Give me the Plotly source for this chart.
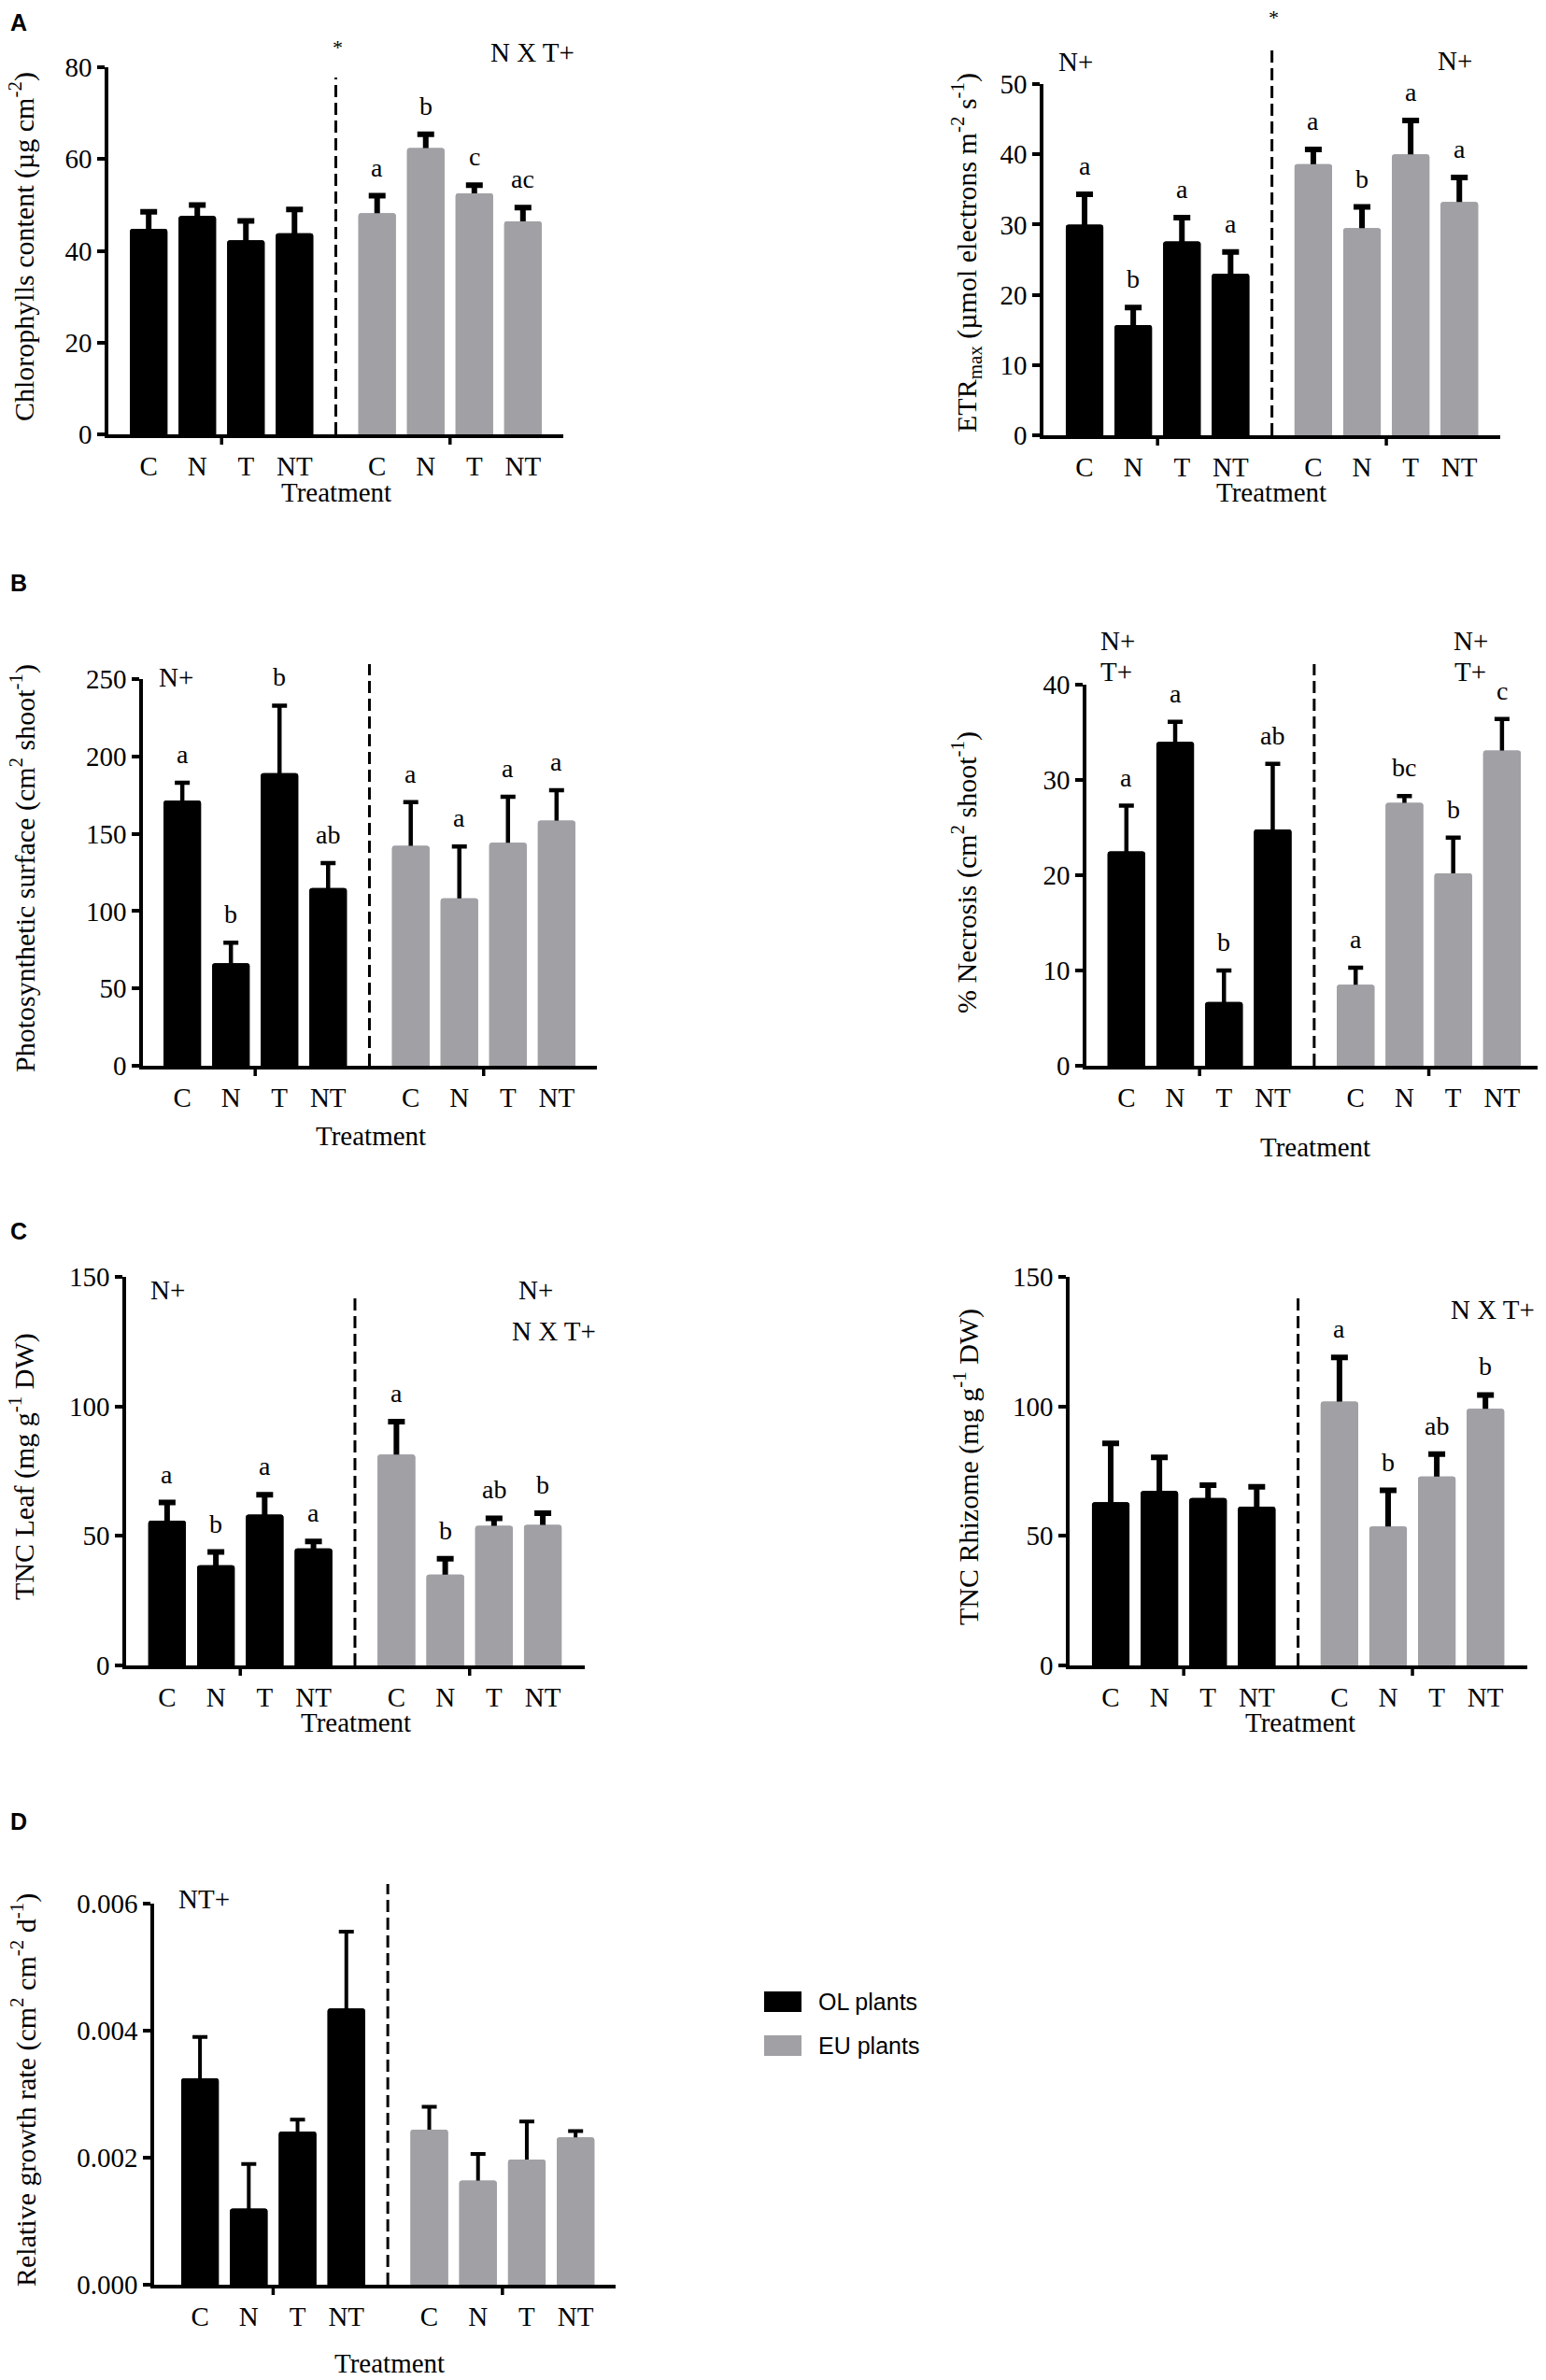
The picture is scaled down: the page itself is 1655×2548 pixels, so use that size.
import plotly.graph_objects as go

W, H = 1655, 2548
PAD = 8  # the page body keeps an 8px margin around the figure
FW, FH = W - 2 * PAD, H - 2 * PAD
SERIF = "Liberation Serif"
SANS = "Liberation Sans"
BLACK = "#000000"
GREY = "#a0a0a5"

treatments = ["C", "N", "T", "NT"]
x_ol = [0, 1, 2, 3]
x_eu = [4.7, 5.7, 6.7, 7.7]

# A - chlorophylls
chl_ol = [44.8, 47.6, 42.3, 43.8]
chl_ol_se = [3.7, 2.4, 4.2, 5.2]
chl_eu = [48.2, 62.4, 52.5, 46.4]
chl_eu_se = [3.8, 3.0, 1.8, 3.0]
chl_ol_let = ["", "", "", ""]
chl_eu_let = ["a", "b", "c", "ac"]

# A - ETRmax
etr_ol = [30.0, 15.7, 27.6, 23.0]
etr_ol_se = [4.3, 2.5, 3.4, 3.1]
etr_eu = [38.6, 29.5, 40.0, 33.2]
etr_eu_se = [2.1, 3.0, 4.8, 3.5]
etr_ol_let = ["a", "b", "a", "a"]
etr_eu_let = ["a", "b", "a", "a"]

# B - photosynthetic surface
ps_ol = [171.5, 66.3, 189.2, 114.9]
ps_ol_se = [11.5, 13.2, 43.6, 16.1]
ps_eu = [142.2, 108.2, 144.1, 158.5]
ps_eu_se = [28.3, 33.6, 29.8, 19.7]
ps_ol_let = ["a", "b", "b", "ab"]
ps_eu_let = ["a", "a", "a", "a"]

# B - necrosis
nec_ol = [22.5, 34.0, 6.7, 24.8]
nec_ol_se = [4.8, 2.1, 3.3, 6.9]
nec_eu = [8.5, 27.6, 20.2, 33.1]
nec_eu_se = [1.8, 0.7, 3.75, 3.3]
nec_ol_let = ["a", "a", "b", "ab"]
nec_eu_let = ["a", "bc", "b", "c"]

# C - TNC leaf
tl_ol = [55.9, 38.7, 58.2, 45.2]
tl_ol_se = [7.0, 5.1, 7.7, 2.7]
tl_eu = [81.4, 35.1, 53.9, 54.3]
tl_eu_se = [12.7, 6.1, 2.9, 4.5]
tl_ol_let = ["a", "b", "a", "a"]
tl_eu_let = ["a", "b", "ab", "b"]

# C - TNC rhizome
tr_ol = [63.0, 67.3, 64.6, 61.3]
tr_ol_se = [22.7, 13.0, 5.0, 7.7]
tr_eu = [101.9, 53.6, 72.9, 99.1]
tr_eu_se = [17.0, 14.0, 8.7, 5.3]
tr_ol_let = ["", "", "", ""]
tr_eu_let = ["a", "b", "ab", "b"]

# D - relative growth rate
rgr_ol = [0.00325, 0.00120, 0.00241, 0.00435]
rgr_ol_se = [0.00065, 0.00070, 0.00019, 0.00121]
rgr_eu = [0.00244, 0.00164, 0.00197, 0.00232]
rgr_eu_se = [0.00036, 0.00042, 0.00060, 0.00010]
rgr_ol_let = ["", "", "", ""]
rgr_eu_let = ["", "", "", ""]


def X(px):
    return (px - PAD) / FW


def Y(py):
    return 1 - (py - PAD) / FH


# pixel layout of each panel (page pixels)
panels = [
    dict(ol=chl_ol, ol_se=chl_ol_se, eu=chl_eu, eu_se=chl_eu_se, ol_let=chl_ol_let, eu_let=chl_eu_let,
         box=(116, 603, 72, 465), xr=[-0.83, 8.53], ymax=80, dtick=20, fmt="", dash_top=83, ew=6, ec=9,
         ytitle="Chlorophylls content (µg cm<sup>-2</sup>)", ypos=(24, 264), tpos=(360, 527),
         notes=[("*", 361, 50, 22), ("N X T+", 570, 56, 29)]),
    dict(ol=etr_ol, ol_se=etr_ol_se, eu=etr_eu, eu_se=etr_eu_se, ol_let=etr_ol_let, eu_let=etr_eu_let,
         box=(1117, 1606, 90, 466), xr=[-0.845, 8.54], ymax=50, dtick=10, fmt="", dash_top=50, ew=6, ec=9,
         ytitle="ETR<sub>max</sub> (µmol electrons m<sup>-2</sup> s<sup>-1</sup>)", ypos=(1035, 271), tpos=(1361, 527),
         notes=[("*", 1363, 18, 22), ("N+", 1151, 66, 29), ("N+", 1557, 65, 29)]),
    dict(ol=ps_ol, ol_se=ps_ol_se, eu=ps_eu, eu_se=ps_eu_se, ol_let=ps_ol_let, eu_let=ps_eu_let,
         box=(153, 639, 727, 1141), xr=[-0.81, 8.53], ymax=250, dtick=50, fmt="", dash_top=711, ew=4.5, ec=8,
         ytitle="Photosynthetic surface (cm<sup>2</sup> shoot<sup>-1</sup>)", ypos=(24, 930), tpos=(397, 1216),
         notes=[("N+", 188, 725, 29)]),
    dict(ol=nec_ol, ol_se=nec_ol_se, eu=nec_eu, eu_se=nec_eu_se, ol_let=nec_ol_let, eu_let=nec_eu_let,
         box=(1163, 1646, 733, 1141), xr=[-0.82, 8.43], ymax=40, dtick=10, fmt="", dash_top=711, ew=4.5, ec=8,
         ytitle="% Necrosis (cm<sup>2</sup> shoot<sup>-1</sup>)", ypos=(1032, 934), tpos=(1408, 1228),
         notes=[("N+", 1196, 686, 29), ("T+", 1195, 719, 29), ("N+", 1574, 686, 29), ("T+", 1574, 719, 29)]),
    dict(ol=tl_ol, ol_se=tl_ol_se, eu=tl_eu, eu_se=tl_eu_se, ol_let=tl_ol_let, eu_let=tl_eu_let,
         box=(135, 626, 1367, 1783), xr=[-0.84, 8.56], ymax=150, dtick=50, fmt="", dash_top=1390, ew=6, ec=9,
         ytitle="TNC Leaf (mg g<sup>-1</sup> DW)", ypos=(24, 1570), tpos=(381, 1844),
         notes=[("N+", 179, 1381, 29), ("N+", 573, 1381, 29), ("N X T+", 593, 1425, 29)]),
    dict(ol=tr_ol, ol_se=tr_ol_se, eu=tr_eu, eu_se=tr_eu_se, ol_let=tr_ol_let, eu_let=tr_eu_let,
         box=(1145, 1635, 1367, 1783), xr=[-0.845, 8.56], ymax=150, dtick=50, fmt="", dash_top=1390, ew=6, ec=9,
         ytitle="TNC Rhizome (mg g<sup>-1</sup> DW)", ypos=(1034, 1571), tpos=(1392, 1844),
         notes=[("N X T+", 1598, 1402, 29)]),
    dict(ol=rgr_ol, ol_se=rgr_ol_se, eu=rgr_eu, eu_se=rgr_eu_se, ol_let=rgr_ol_let, eu_let=rgr_eu_let,
         box=(165, 659, 2038, 2446), xr=[-0.94, 8.52], ymax=0.006, dtick=0.002, fmt=".3f", dash_top=2017, ew=4, ec=8,
         ytitle="Relative growth rate (cm<sup>2</sup> cm<sup>-2</sup> d<sup>-1</sup>)", ypos=(25, 2238), tpos=(417, 2530),
         notes=[("NT+", 219, 2033, 29)]),
]

fig = go.Figure()
layout = {}
shapes = []
annotations = []

for i, p in enumerate(panels):
    n = "" if i == 0 else str(i + 1)
    xa, ya = "x" + n, "y" + n
    xl, xr, yt, yb = p["box"]

    for xs, vals, se, col in [(x_ol, p["ol"], p["ol_se"], BLACK), (x_eu, p["eu"], p["eu_se"], GREY)]:
        # error bar drawn first, bar on top hides the lower half
        fig.add_trace(go.Bar(x=xs, y=vals, width=0.77, marker=dict(color=col, line_width=0, cornerradius=3),
                             error_y=dict(type="data", array=se, symmetric=True, color=BLACK,
                                          thickness=p["ew"], width=p["ec"]),
                             xaxis=xa, yaxis=ya, showlegend=False, hoverinfo="skip"))
        fig.add_trace(go.Bar(x=xs, y=vals, width=0.77, marker=dict(color=col, line_width=0, cornerradius=3),
                             xaxis=xa, yaxis=ya, showlegend=False))

    layout["xaxis" + n] = dict(
        domain=[X(xl), X(xr)], range=p["xr"], anchor=ya, automargin=False,
        showline=True, linecolor=BLACK, linewidth=3.5, showgrid=False, zeroline=False,
        tickvals=x_ol + x_eu, ticktext=treatments * 2, ticks="outside", ticklen=5,
        tickcolor="rgba(0,0,0,0)", tickfont=dict(family=SERIF, size=29, color=BLACK),
    )
    layout["yaxis" + n] = dict(
        domain=[Y(yb), Y(yt)], range=[0, p["ymax"]], anchor=xa, automargin=False,
        showline=True, linecolor=BLACK, linewidth=3.5, showgrid=False, zeroline=False,
        tick0=0, dtick=p["dtick"], tickformat=p["fmt"], ticks="outside", ticklen=8, tickwidth=3.5,
        tickcolor=BLACK, tickfont=dict(family=SERIF, size=29, color=BLACK),
    )

    # dashed separator between OL and EU groups
    xd = (x_ol[-1] + x_eu[0]) / 2
    shapes.append(dict(type="line", xref=xa, yref="paper", x0=xd, x1=xd, y0=Y(yb), y1=Y(p["dash_top"]),
                       line=dict(color=BLACK, width=3, dash="13px,6px")))
    # small tick marks between N and T of each group
    for xs in (x_ol, x_eu):
        xm = (xs[1] + xs[2]) / 2
        shapes.append(dict(type="line", xref=xa, yref="paper", x0=xm, x1=xm, y0=Y(yb), y1=Y(yb + 11),
                           line=dict(color=BLACK, width=3.5)))

    # significance letters
    for xs, vals, se, lets in [(x_ol, p["ol"], p["ol_se"], p["ol_let"]), (x_eu, p["eu"], p["eu_se"], p["eu_let"])]:
        for xv, v, s, t in zip(xs, vals, se, lets):
            if t:
                annotations.append(dict(text=t, x=xv, y=v + s, xref=xa, yref=ya, showarrow=False,
                                        yanchor="bottom", yshift=13,
                                        font=dict(family=SERIF, size=28, color=BLACK)))

    for t, px, py, fs in p["notes"]:
        annotations.append(dict(text=t, x=X(px), y=Y(py), xref="paper", yref="paper", showarrow=False,
                                xanchor="center", yanchor="middle", font=dict(family=SERIF, size=fs, color=BLACK)))

    annotations.append(dict(text=p["ytitle"], x=X(p["ypos"][0]), y=Y(p["ypos"][1]), xref="paper", yref="paper",
                            showarrow=False, textangle=-90, xanchor="center", yanchor="middle",
                            font=dict(family=SERIF, size=30, color=BLACK)))
    annotations.append(dict(text="Treatment", x=X(p["tpos"][0]), y=Y(p["tpos"][1]), xref="paper", yref="paper",
                            showarrow=False, xanchor="center", yanchor="middle",
                            font=dict(family=SERIF, size=29, color=BLACK)))

# panel letters
for t, px, py in [("A", 20, 24), ("B", 20, 624), ("C", 20, 1318), ("D", 20, 1950)]:
    annotations.append(dict(text="<b>" + t + "</b>", x=X(px), y=Y(py), xref="paper", yref="paper",
                            showarrow=False, xanchor="center", yanchor="middle",
                            font=dict(family=SANS, size=25, color=BLACK)))

# legend
for name, col, py in [("OL plants", BLACK, 2143), ("EU plants", GREY, 2190)]:
    shapes.append(dict(type="rect", xref="paper", yref="paper", x0=X(818), x1=X(858), y0=Y(py + 11), y1=Y(py - 11),
                       fillcolor=col, line=dict(width=0)))
    annotations.append(dict(text=name, x=X(874), y=Y(py), xref="paper", yref="paper", showarrow=False,
                            xanchor="left", yanchor="middle", font=dict(family=SANS, size=25, color=BLACK)))

fig.update_layout(
    width=FW, height=FH, margin=dict(l=0, r=0, t=0, b=0),
    paper_bgcolor="white", plot_bgcolor="white",
    barmode="overlay", shapes=shapes, annotations=annotations, showlegend=False,
    **layout,
)

fig.write_html("out.html")
